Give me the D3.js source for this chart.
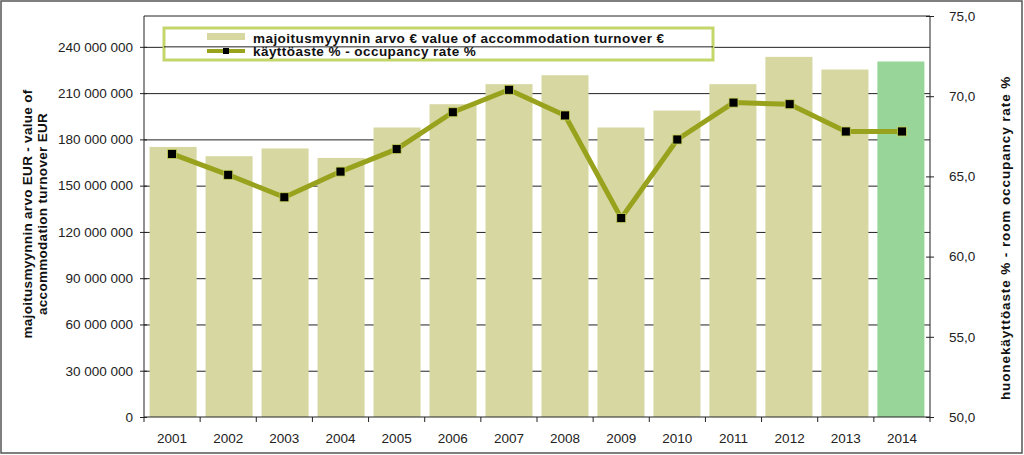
<!DOCTYPE html>
<html>
<head>
<meta charset="utf-8">
<script src="https://cdn.jsdelivr.net/npm/d3@7"></script>
<style>
  body { margin: 0; background: #fff; }
  svg { display: block; font-family: "Liberation Sans", Arial, sans-serif; }
  .tick text { font-size: 13.5px; fill: #222; }
  .axis path, .axis line { stroke: #222; }
  .grid line { stroke: #222; stroke-width: 1; }
  .title { font-size: 13.5px; font-weight: bold; fill: #111; }
  .legend text { font-size: 13.5px; font-weight: bold; fill: #111; letter-spacing: 0.45px; }
</style>
</head>
<body>
<svg width="1024" height="455"></svg>
<script>
// years on the x axis
const years = ['2001','2002','2003','2004','2005','2006','2007','2008','2009','2010','2011','2012','2013','2014']
// accommodation turnover, EUR
const turnover = [175100000, 169100000, 174100000, 168000000, 187700000, 202800000, 215800000,
                  221600000, 187700000, 198700000, 215800000, 233500000, 225300000, 230500000]
// room occupancy rate, %
const occupancy = [66.4, 65.1, 63.7, 65.3, 66.7, 69.0, 70.4, 68.8, 62.4, 67.3, 69.6, 69.5, 67.8, 67.8]
const leftTicks = [0, 30000000, 60000000, 90000000, 120000000, 150000000, 180000000, 210000000, 240000000]
const rightTicks = [50, 55, 60, 65, 70, 75]

const svg = d3.select('svg')

// outer frame
svg.append('rect')
  .attr('x', 1).attr('y', 1).attr('width', 1021).attr('height', 452)
  .attr('fill', 'none').attr('stroke', '#555').attr('stroke-width', 1.5)

const pLeft = 144, pRight = 930, pTop = 16, pBottom = 417

const x = d3.scaleBand()
  .domain(years)
  .range([pLeft, pRight])
  .paddingInner(0.16)
  .paddingOuter(0.1)

const xBand = d3.scaleBand().domain(years).range([pLeft, pRight])

const yL = d3.scaleLinear().domain([0, 260000000]).range([pBottom, pTop])
const yR = d3.scaleLinear().domain([50, 75]).range([pBottom, pTop])

const fmt = v => d3.format(',')(v).replace(/,/g, ' ')

// gridlines
svg.append('g')
  .attr('class', 'grid')
  .attr('transform', `translate(${pLeft},0)`)
  .call(d3.axisLeft(yL).tickValues(leftTicks.slice(1)).tickSize(-(pRight - pLeft)).tickFormat(''))
  .call(g => g.select('.domain').remove())

// top border of plot area
svg.append('line')
  .attr('x1', pLeft).attr('x2', pRight).attr('y1', pTop).attr('y2', pTop)
  .attr('stroke', '#222')

// bars
svg.append('g')
  .selectAll('rect')
  .data(years)
  .enter()
  .append('rect')
  .attr('x', d => x(d))
  .attr('width', x.bandwidth())
  .attr('y', (d, i) => yL(turnover[i]))
  .attr('height', (d, i) => pBottom - yL(turnover[i]))
  .attr('fill', d => d === '2014' ? '#98d598' : '#d6d7a1')

// line
const cx = d => xBand(d) + xBand.bandwidth() / 2
const line = d3.line()
  .x((d, i) => cx(years[i]))
  .y(d => yR(d))

svg.append('path')
  .datum(occupancy)
  .attr('d', line)
  .attr('fill', 'none')
  .attr('stroke', '#99a21c')
  .attr('stroke-width', 5)
  .attr('stroke-linejoin', 'round')

svg.append('g')
  .selectAll('rect')
  .data(occupancy)
  .enter()
  .append('rect')
  .attr('x', (d, i) => cx(years[i]) - 4.5)
  .attr('y', d => yR(d) - 4.5)
  .attr('width', 9)
  .attr('height', 9)
  .attr('fill', '#000')
  .attr('stroke', '#c8d45a')
  .attr('stroke-width', 0.8)

// left axis
svg.append('g')
  .attr('class', 'axis')
  .attr('transform', `translate(${pLeft},0)`)
  .call(d3.axisLeft(yL).tickValues(leftTicks).tickSize(4).tickPadding(7).tickFormat(fmt))
  .call(g => g.select('.domain').attr('d', `M0,${pTop}V${pBottom}`))
  .call(g => g.selectAll('.tick line').attr('x1', -4).attr('x2', 3))
  .call(g => g.selectAll('.tick text').attr('x', -11))

// right axis
svg.append('g')
  .attr('class', 'axis')
  .attr('transform', `translate(${pRight},0)`)
  .call(d3.axisRight(yR).tickValues(rightTicks).tickSize(4).tickFormat(d3.format('.1f')))
  .call(g => g.select('.domain').attr('d', `M0,${pTop}V${pBottom}`))
  .call(g => g.selectAll('.tick line').attr('x1', -4).attr('x2', 4))
  .call(g => g.selectAll('.tick text').attr('x', 19).text(d => d3.format('.1f')(d).replace('.', ',')))

// x axis
const xg = svg.append('g')
  .attr('class', 'axis')
  .attr('transform', `translate(0,${pBottom})`)
xg.append('line').attr('x1', pLeft).attr('x2', pRight).attr('stroke', '#222')
xg.selectAll('.tk')
  .data(years.concat(['end']))
  .enter()
  .append('line')
  .attr('class', 'tk')
  .attr('x1', (d, i) => pLeft + i * xBand.step())
  .attr('x2', (d, i) => pLeft + i * xBand.step())
  .attr('y1', 0).attr('y2', 5)
  .attr('stroke', '#222')
xg.selectAll('.lbl')
  .data(years)
  .enter()
  .append('text')
  .attr('class', 'lbl')
  .attr('x', d => cx(d))
  .attr('y', 26)
  .attr('text-anchor', 'middle')
  .style('font-size', '13.5px')
  .style('fill', '#222')
  .text(d => d)

// axis titles
const lt = svg.append('text')
  .attr('class', 'title')
  .attr('transform', 'translate(32,214) rotate(-90)')
  .attr('text-anchor', 'middle')
  .style('letter-spacing', '0.3px')
lt.append('tspan').attr('x', 0).attr('dy', 0).text('majoitusmyynnin arvo EUR - value of')
lt.append('tspan').attr('x', 0).attr('dy', 15).text('accommodation turnover EUR')

svg.append('text')
  .attr('class', 'title')
  .attr('transform', 'translate(1010,238) rotate(-90)')
  .attr('text-anchor', 'middle')
  .style('letter-spacing', '0.9px')
  .text('huonekäyttöaste % - room occupancy rate %')

// legend
const lg = svg.append('g').attr('class', 'legend')
lg.append('rect')
  .attr('x', 164).attr('y', 28).attr('width', 549).attr('height', 32)
  .attr('fill', '#fff').attr('stroke', '#c3d66a').attr('stroke-width', 3)
lg.append('line')
  .attr('x1', 164).attr('x2', 713).attr('y1', yL(240000000)).attr('y2', yL(240000000))
  .attr('stroke', '#222')
lg.append('rect')
  .attr('x', 207).attr('y', 33).attr('width', 38).attr('height', 7)
  .attr('fill', '#d6d7a1')
lg.append('text').attr('x', 253).attr('y', 43).text('majoitusmyynnin arvo € value of accommodation turnover €')
lg.append('line')
  .attr('x1', 207).attr('x2', 245).attr('y1', 51).attr('y2', 51)
  .attr('stroke', '#99a21c').attr('stroke-width', 4)
lg.append('rect')
  .attr('x', 223).attr('y', 48).attr('width', 6).attr('height', 6).attr('fill', '#000')
lg.append('text').attr('x', 253).attr('y', 56).text('käyttöaste % -  occupancy rate %')
</script>
</body>
</html>
